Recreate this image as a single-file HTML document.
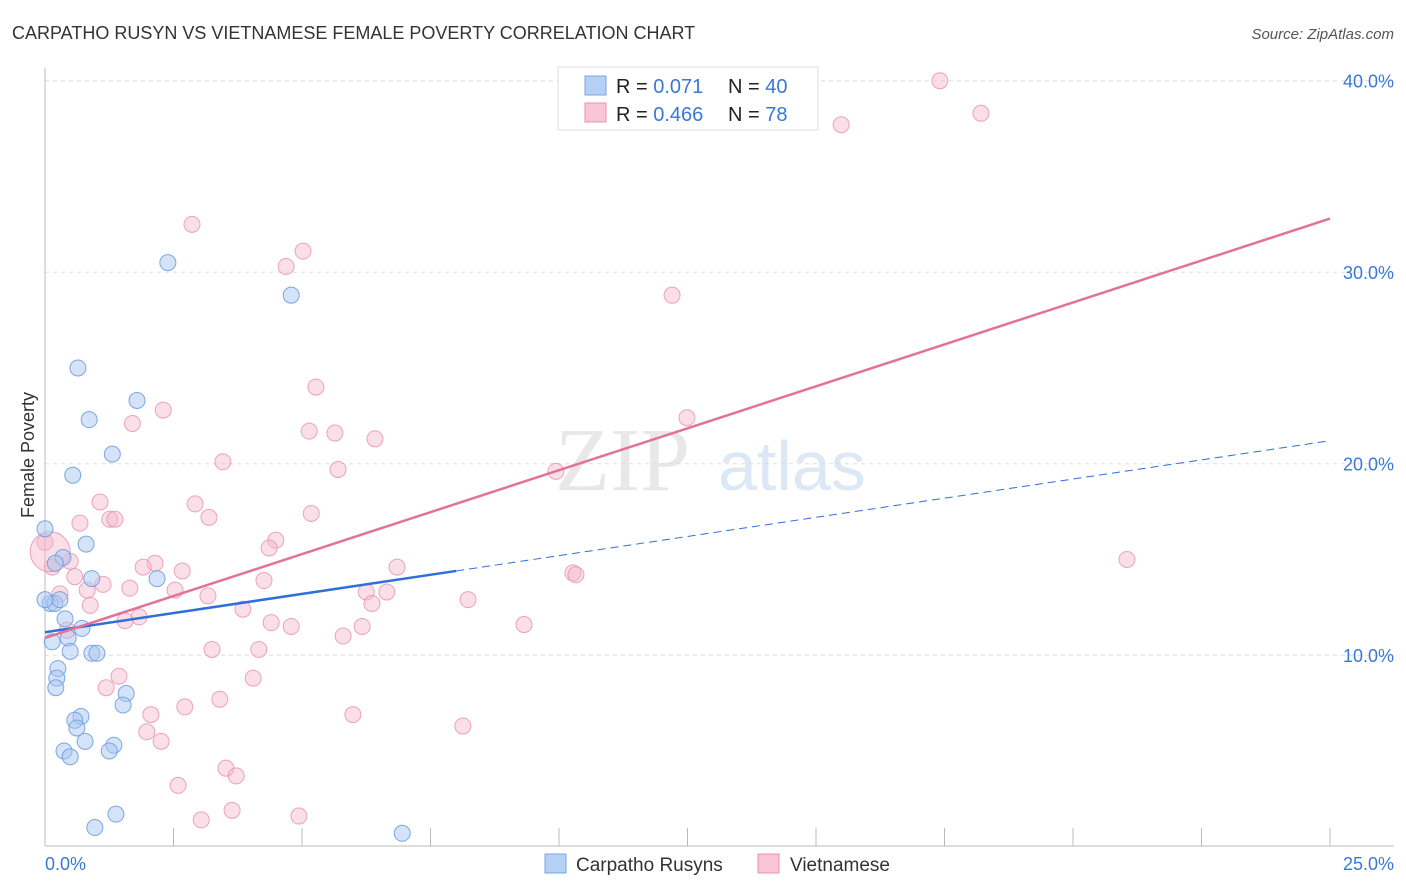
<!DOCTYPE html>
<html><head><meta charset="utf-8"><style>
body{margin:0;background:#fff;font-family:"Liberation Sans",sans-serif;}
svg{display:block}
</style></head><body>
<svg id="chart" width="1406" height="892">
<text x="12" y="39" font-size="18" fill="#333">CARPATHO RUSYN VS VIETNAMESE FEMALE POVERTY CORRELATION CHART</text>
<text x="1394" y="39" font-size="15" fill="#555" font-style="italic" text-anchor="end">Source: ZipAtlas.com</text>
<text x="555" y="490" font-size="90" fill="#e8e8e8" font-family="Liberation Serif">ZIP</text>
<text x="718" y="490" font-size="70" fill="#dde8f5">atlas</text>
<g id="grid"></g><g id="axes"></g><g id="pts"></g><g id="lines"></g>
<text x="34" y="455" font-size="18" fill="#333" transform="rotate(-90 34 455)" text-anchor="middle">Female Poverty</text>
<text x="45" y="870" font-size="18" fill="#3a78d8">0.0%</text>
<text x="1394" y="870" font-size="18" fill="#3a78d8" text-anchor="end">25.0%</text>
<g>
<rect x="558" y="67" width="260" height="63" fill="#fff" stroke="#ddd"/>
<rect x="585" y="76" width="21" height="19" fill="#b4d0f5" stroke="#7aa6e0"/>
<rect x="585" y="103" width="21" height="19" fill="#f9c6d5" stroke="#e890ab"/>
<text x="616" y="93" font-size="20" fill="#222">R = <tspan fill="#3a78d8">0.071</tspan></text>
<text x="728" y="93" font-size="20" fill="#222">N = <tspan fill="#3a78d8">40</tspan></text>
<text x="616" y="121" font-size="20" fill="#222">R = <tspan fill="#3a78d8">0.466</tspan></text>
<text x="728" y="121" font-size="20" fill="#222">N = <tspan fill="#3a78d8"> 78</tspan></text>
</g>
<g>
<rect x="545" y="854" width="21" height="19" fill="#b4d0f5" stroke="#7aa6e0"/>
<text x="576" y="871" font-size="19" fill="#333">Carpatho Rusyns</text>
<rect x="758" y="854" width="21" height="19" fill="#f9c6d5" stroke="#e890ab"/>
<text x="790" y="871" font-size="19" fill="#333">Vietnamese</text>
</g>
</svg>
<script>
const yTicks=[10,20,30,40];
const blueX=[2.39,4.79,0.64,1.79,0.86,1.31,0.54,0,0.80,0.35,0.91,2.18,0.10,0.19,0.29,0.39,0.72,0.45,0.14,0.49,0.91,1.01,0.25,0.23,0.21,1.58,1.52,0.70,0.58,0.62,0.78,1.34,0.37,1.25,0.49,1.38,0.97,6.95,0,0.2];
const blueY=[30.5,28.8,25.0,23.3,22.3,20.5,19.4,16.6,15.8,15.1,14.0,14.0,12.7,12.7,12.9,11.9,11.4,10.9,10.7,10.2,10.1,10.1,9.3,8.8,8.3,8.0,7.4,6.8,6.6,6.2,5.5,5.3,5.0,5.0,4.7,1.7,1.0,0.7,12.9,14.8];
const pinkX=[17.41,18.21,15.49,2.86,5.02,4.69,12.20,5.27,2.30,1.70,12.49,5.14,5.64,6.42,3.46,9.94,5.70,2.92,1.07,0.68,1.26,1.36,3.19,5.18,0,4.49,4.36,2.14,0.49,1.91,0.14,2.67,6.85,10.27,10.33,21.05,0.58,4.26,1.13,1.65,0.82,2.53,0.29,3.17,6.25,6.65,8.23,0.88,6.36,3.85,1.83,1.56,4.40,4.79,6.17,9.32,5.80,0.43,3.25,4.16,1.44,4.05,1.19,2.06,2.72,3.40,5.99,8.13,1.98,2.26,3.52,3.72,2.59,3.64,3.04,4.94,0.1];
const pinkY=[40.0,38.3,37.7,32.5,31.1,30.3,28.8,24.0,22.8,22.1,22.4,21.7,21.6,21.3,20.1,19.6,19.7,17.9,18.0,16.9,17.1,17.1,17.2,17.4,15.9,16.0,15.6,14.8,14.9,14.6,14.6,14.4,14.6,14.3,14.2,15.0,14.1,13.9,13.7,13.5,13.4,13.4,13.2,13.1,13.3,13.3,12.9,12.6,12.7,12.4,12.0,11.8,11.7,11.5,11.5,11.6,11.0,11.3,10.3,10.3,8.9,8.8,8.3,6.9,7.3,7.7,6.9,6.3,6.0,5.5,4.1,3.7,3.2,1.9,1.4,1.6,15.4];
const blueFit=[11.2,0.071*0+0.215];
const blueLine=[[0,11.2],[8.0,14.4],[25,21.2]];
const pinkLine=[[0,10.9],[25,32.8]];
const NS='http://www.w3.org/2000/svg';
const xs=v=>45+v*51.4, ys=v=>846.7-v*19.15;
function mk(t,a,p){const e=document.createElementNS(NS,t);for(const k in a)e.setAttribute(k,a[k]);p.appendChild(e);return e;}
const grid=document.getElementById('grid'),axes=document.getElementById('axes'),pts=document.getElementById('pts'),lines=document.getElementById('lines'),svg=document.getElementById('chart');
for(const t of yTicks){
 const l=mk('line',{x1:45,x2:1394,y1:ys(t),y2:ys(t),stroke:'#ddd','stroke-dasharray':'4,4'},grid);
 
 
 const tx=mk('text',{x:1394,y:ys(t)+7,'font-size':18,fill:'#3a78d8','text-anchor':'end'},svg);
 tx.textContent=t.toFixed(1)+'%';
 
 
}
mk('line',{x1:45,x2:45,y1:68,y2:846,stroke:'#bbb'},axes);
mk('line',{x1:45,x2:1394,y1:846,y2:846,stroke:'#bbb'},axes);
for(let i=1;i<=10;i++){const x=xs(i*2.5);const t=mk('line',{x1:x,x2:x,y1:828,y2:846,stroke:'#bbb'},axes);
 
 }
pinkX.forEach((x,i)=>{const c=mk('circle',{cx:xs(x),cy:ys(pinkY[i]),r:i==pinkX.length-1?20:8,fill:'#f5b8cb','fill-opacity':0.45,stroke:'#e890ab','stroke-opacity':0.8},pts);
 
 });
blueX.forEach((x,i)=>{const c=mk('circle',{cx:xs(x),cy:ys(blueY[i]),r:8,fill:'#a9c8f0','fill-opacity':0.5,stroke:'#6f9ee0','stroke-opacity':0.9},pts);
 
 });
let l1=mk('line',{x1:xs(blueLine[0][0]),y1:ys(blueLine[0][1]),x2:xs(blueLine[1][0]),y2:ys(blueLine[1][1]),stroke:'#2f6fd6','stroke-width':2.5},lines);


let l2=mk('line',{x1:xs(blueLine[1][0]),y1:ys(blueLine[1][1]),x2:xs(blueLine[2][0]),y2:ys(blueLine[2][1]),stroke:'#2f6fd6','stroke-width':1,'stroke-dasharray':'8,5'},lines);


let l3=mk('line',{x1:xs(pinkLine[0][0]),y1:ys(pinkLine[0][1]),x2:xs(pinkLine[1][0]),y2:ys(pinkLine[1][1]),stroke:'#e4719a','stroke-width':2.5},lines);


</script>
</body></html>
